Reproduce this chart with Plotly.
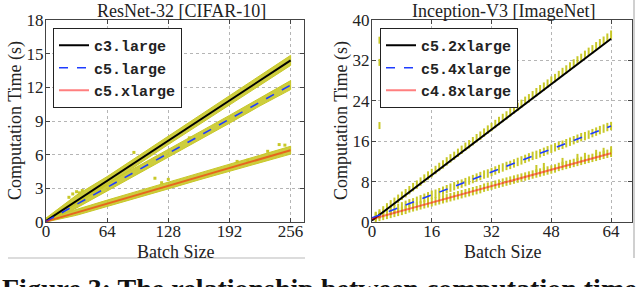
import plotly.graph_objects as go

# ---------------- data: ResNet-32 [CIFAR-10] ----------------
res_series = ["c3.large", "c5.large", "c5.xlarge"]
res_fit_x = [0, 256]
res_c3_fit = [0.1, 14.4]
res_c5_fit = [0.05, 12.2]
res_c5x_fit = [0.05, 6.4]

res_env_x = [0, 32, 64, 96, 128, 160, 192, 224, 256]
res_c3_hi = [0.35, 2.4, 4.05, 5.85, 7.65, 9.45, 11.25, 13.05, 14.85]
res_c3_lo = [0.0, 1.6, 3.3, 5.1, 6.9, 8.65, 10.45, 12.2, 13.95]
res_c5_hi = [0.3, 1.95, 3.45, 4.95, 6.5, 8.0, 9.5, 11.05, 12.6]
res_c5_lo = [0.0, 1.25, 2.75, 4.25, 5.8, 7.3, 8.8, 10.35, 11.8]
res_c5x_hi = [0.3, 1.15, 1.95, 2.75, 3.55, 4.35, 5.15, 5.95, 6.75]
res_c5x_lo = [0.0, 0.6, 1.4, 2.15, 2.95, 3.75, 4.55, 5.3, 6.05]

res_out_x = [24, 28, 32, 35, 38, 92, 114, 121, 128, 150, 200, 211, 232, 244, 250]
res_out_y = [2.2, 2.5, 2.7, 2.6, 2.8, 6.2, 3.9, 3.5, 3.8, 7.5, 5.4, 5.5, 6.3, 6.9, 6.85]

# ---------------- data: Inception-V3 [ImageNet] ----------------
inc_series = ["c5.2xlarge", "c5.4xlarge", "c4.8xlarge"]
inc_fit_x = [0, 64]
inc_c52_fit = [0.3, 36.3]
inc_c54_fit = [0.8, 19.0]
inc_c48_fit = [0.6, 13.6]

inc_batch = [1, 2, 3, 4, 5, 6, 7, 8, 9, 10, 11, 12, 13, 14, 15, 16,
             17, 18, 19, 20, 21, 22, 23, 24, 25, 26, 27, 28, 29, 30, 31, 32,
             33, 34, 35, 36, 37, 38, 39, 40, 41, 42, 43, 44, 45, 46, 47, 48,
             49, 50, 51, 52, 53, 54, 55, 56, 57, 58, 59, 60, 61, 62, 63, 64]
inc_c52_obs = [1.2, 1.7, 2.3, 2.9, 3.5, 4.0, 4.6, 5.2, 5.7, 6.3, 6.9, 7.4, 8.0, 8.6, 9.2, 9.7,
               10.3, 10.9, 11.4, 12.0, 12.6, 13.1, 13.7, 14.3, 14.9, 15.4, 16.0, 16.6, 17.1, 17.7, 18.3, 18.8,
               19.4, 20.0, 20.6, 21.1, 21.7, 22.3, 22.8, 23.4, 24.0, 24.5, 25.1, 25.7, 26.3, 26.8, 27.4, 28.0,
               28.5, 29.1, 29.7, 30.2, 30.8, 31.4, 32.0, 32.5, 33.1, 33.7, 34.2, 34.8, 35.4, 35.9, 36.5, 37.1]
inc_c54_obs = [1.1, 1.4, 1.7, 1.9, 2.2, 2.5, 2.8, 3.1, 3.4, 3.7, 3.9, 4.2, 4.5, 4.8, 5.1, 5.4,
               5.6, 5.9, 6.2, 6.5, 6.8, 7.1, 7.4, 7.6, 7.9, 8.2, 8.5, 8.8, 9.1, 9.4, 9.6, 9.9,
               10.2, 10.5, 10.8, 11.1, 11.3, 11.6, 11.9, 12.2, 12.5, 12.8, 13.1, 13.3, 13.6, 13.9, 14.2, 14.5,
               14.8, 15.1, 15.3, 15.6, 15.9, 16.2, 16.5, 16.8, 17.0, 17.3, 17.6, 17.9, 18.2, 18.5, 18.8, 19.0]
inc_c48_obs = [0.8, 1.0, 1.2, 1.4, 1.6, 1.8, 2.0, 2.2, 2.4, 2.7, 2.9, 3.1, 3.3, 3.5, 3.7, 3.9,
               4.1, 4.3, 4.5, 4.7, 4.9, 5.1, 5.3, 5.5, 5.7, 5.9, 6.1, 6.3, 6.5, 6.8, 7.0, 7.2,
               7.4, 7.6, 7.8, 8.0, 8.2, 8.4, 8.6, 8.8, 9.0, 9.2, 9.4, 9.6, 9.8, 10.0, 10.2, 10.4,
               10.6, 10.9, 11.1, 11.3, 11.5, 11.7, 11.9, 12.1, 12.3, 12.5, 12.7, 12.9, 13.1, 13.3, 13.5, 13.7]
inc_out_x = [2, 2, 2, 44, 46, 51, 55, 57, 60, 62, 64]
inc_out_y = [36.0, 31.6, 19.1, 10.6, 11.0, 12.0, 12.8, 13.0, 13.6, 14.0, 14.3]

res_xticks = [0, 64, 128, 192, 256]
res_yticks = [0, 3, 6, 9, 12, 15, 18]
inc_xticks = [0, 16, 32, 48, 64]
inc_yticks = [0, 8, 16, 24, 32, 40]

W, H = 640, 287
YEL = "rgb(200,200,40)"
YEL_FILL = "rgba(200,200,40,0.9)"
SERIF = "Liberation Serif"
MONO = "Liberation Mono"


def px(x):
    return x / W


def py(y):
    return 1 - y / H


fig = go.Figure()

# left panel bands
for lo, hi in [(res_c3_lo, res_c3_hi), (res_c5_lo, res_c5_hi), (res_c5x_lo, res_c5x_hi)]:
    fig.add_trace(go.Scatter(x=res_env_x + res_env_x[::-1], y=hi + lo[::-1],
                             fill="toself", fillcolor=YEL_FILL, mode="lines",
                             line=dict(width=1, color=YEL), showlegend=False,
                             hoverinfo="skip", xaxis="x", yaxis="y"))
fig.add_trace(go.Scatter(x=res_out_x, y=res_out_y, mode="markers",
                         marker=dict(size=3, color=YEL, symbol="square"),
                         showlegend=False, xaxis="x", yaxis="y"))
styles = [dict(color="black", width=2),
          dict(color="rgb(30,60,255)", width=1.6, dash="dash"),
          dict(color="rgba(255,0,0,0.5)", width=2)]
for name, ys, st in zip(res_series, [res_c3_fit, res_c5_fit, res_c5x_fit], styles):
    fig.add_trace(go.Scatter(x=res_fit_x, y=ys, mode="lines", line=st, name=name,
                             xaxis="x", yaxis="y", legend="legend"))

# right panel ticks
for obs in [inc_c52_obs, inc_c54_obs, inc_c48_obs]:
    fig.add_trace(go.Scatter(x=inc_batch, y=obs, mode="markers",
                             marker=dict(symbol="line-ns", size=6,
                                         line=dict(width=2, color=YEL)),
                             showlegend=False, xaxis="x2", yaxis="y2"))
fig.add_trace(go.Scatter(x=inc_out_x, y=inc_out_y, mode="markers",
                         marker=dict(symbol="line-ns", size=5,
                                     line=dict(width=2, color=YEL)),
                         showlegend=False, xaxis="x2", yaxis="y2"))
for name, ys, st in zip(inc_series, [inc_c52_fit, inc_c54_fit, inc_c48_fit], styles):
    fig.add_trace(go.Scatter(x=inc_fit_x, y=ys, mode="lines", line=st, name=name,
                             xaxis="x2", yaxis="y2", legend="legend2"))

ax_common = dict(showline=True, mirror="ticks", linecolor="#444", linewidth=1,
                 ticks="inside", ticklen=4, tickcolor="#444",
                 showgrid=True, gridcolor="#b5b5b5", griddash="dot", gridwidth=1,
                 zeroline=False, automargin=False,
                 tickfont=dict(family=SERIF, size=17, color="#222"))

ydom = [py(222), py(20)]
leg_common = dict(xanchor="left", yanchor="top", bgcolor="white",
                  bordercolor="#222", borderwidth=1,
                  font=dict(family=MONO, size=15, color="#222", weight="bold"),
                  tracegroupgap=0, itemwidth=30)
fig.update_layout(
    width=W, height=H, margin=dict(l=0, r=0, t=0, b=0, autoexpand=False),
    paper_bgcolor="white", plot_bgcolor="white",
    xaxis=dict(domain=[px(46), px(304)], range=[0, 270], tickvals=res_xticks,
               anchor="y", ticklabelstandoff=-6, **ax_common),
    yaxis=dict(domain=ydom, range=[0, 18], tickvals=res_yticks, anchor="x",
               ticklabelstandoff=-2, **ax_common),
    xaxis2=dict(domain=[px(372), px(632)], range=[0, 69.6], tickvals=inc_xticks,
                anchor="y2", ticklabelstandoff=-6, **ax_common),
    yaxis2=dict(domain=ydom, range=[0, 40], tickvals=inc_yticks, anchor="x2",
                ticklabelstandoff=-2, **ax_common),
    legend=dict(x=px(53), y=py(28), **leg_common),
    legend2=dict(x=px(380), y=py(28), **leg_common),
    showlegend=True,
)

ann = []
txt = dict(family=SERIF, size=18, color="#222")
ann.append(dict(text="ResNet-32 [CIFAR-10]", x=px(181), y=py(11), font=txt))
ann.append(dict(text="Inception-V3 [ImageNet]", x=px(503), y=py(11), font=txt))
ann.append(dict(text="Batch Size", x=px(175), y=py(252), font=txt))
ann.append(dict(text="Batch Size", x=px(502), y=py(252), font=txt))
ann.append(dict(text="Computation Time (s)", x=px(15), y=py(121), font=txt, textangle=-90))
ann.append(dict(text="Computation Time (s)", x=px(341), y=py(121), font=txt, textangle=-90))
ann.append(dict(text="Figure 3: The relationship between computation time",
                x=px(0), y=py(271), xanchor="left", yanchor="top",
                font=dict(family=SERIF, size=28, color="#111", weight="bold")))
for a in ann:
    a.setdefault("xanchor", "center")
    a.setdefault("yanchor", "middle")
    a.update(xref="paper", yref="paper", showarrow=False)
fig.update_layout(annotations=ann)

fig.update_layout(shapes=[
    dict(type="line", xref="paper", yref="paper", x0=px(8), x1=px(305), y0=py(258), y1=py(258),
         line=dict(color="#dcdcdc", width=2)),
    dict(type="line", xref="paper", yref="paper", x0=px(634), x1=px(634), y0=py(258), y1=1,
         line=dict(color="#d0d0d0", width=2)),
])

fig.write_html("out.html", config={"displayModeBar": False},
               post_script="document.body.style.margin='0';document.body.style.overflow='hidden';")
